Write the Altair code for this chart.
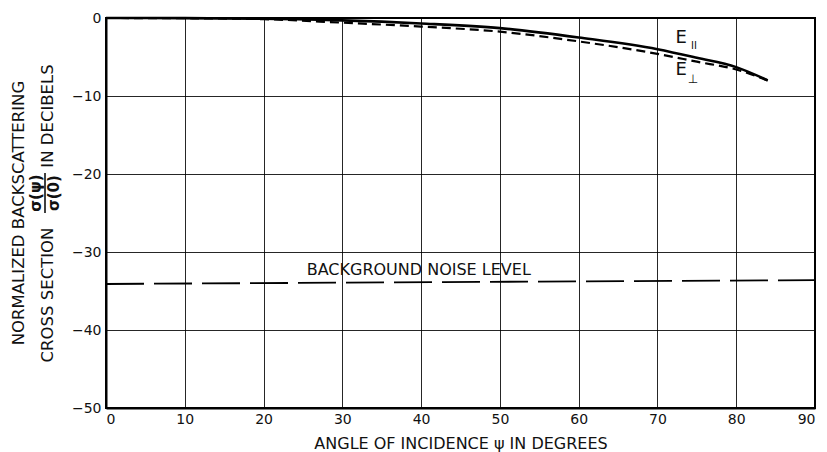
import altair as alt
import pandas as pd

FONT = "DejaVu Sans"
INK = "#111111"

# ---- data ----
angle = [0, 10, 20, 30, 40, 50, 60, 70, 75, 80, 84]
e_parallel = [0, -0.02, -0.1, -0.3, -0.7, -1.3, -2.5, -4.0, -5.1, -6.3, -8.0]
e_perp = [0, -0.03, -0.15, -0.6, -1.1, -1.75, -3.0, -4.6, -5.6, -6.6, -8.0]
noise_angle = [0, 90]
noise_db = [-34.1, -33.6]

x_ticks = [0, 10, 20, 30, 40, 50, 60, 70, 80, 90]
y_ticks = [0, -10, -20, -30, -40, -50]

noise_label = ["BACKGROUND NOISE LEVEL"]
noise_label_pos = [39.7, -32.3]
e_label = ["E"]
e_par_pos = [73.0, -2.5]
e_perp_pos = [73.0, -6.7]
sub_par = ["II"]
sub_perp = ["\u22a5"]

ytitle1 = ["NORMALIZED BACKSCATTERING"]
ytitle2a = ["CROSS SECTION"]
ytitle2b = ["IN DECIBELS"]
frac_num = ["\u03c3(\u03c8)"]
frac_den = ["\u03c3(0)"]
x_title = "ANGLE OF INCIDENCE \u03c8 IN DEGREES"

curves = pd.DataFrame({"angle": angle, "par": e_parallel, "perp": e_perp})
noise = pd.DataFrame({"angle": noise_angle, "db": noise_db})

xscale = alt.Scale(domain=[0, 90], nice=False)
yscale = alt.Scale(domain=[-50, 0], nice=False)

xax = alt.Axis(values=x_ticks, grid=True, ticks=False, labelFontSize=14,
               labelPadding=4, labelFont=FONT, labelColor=INK, title=x_title,
               titleFont=FONT, titleFontSize=16, titleFontWeight="normal",
               titleColor=INK, titleY=35, titleBaseline="middle",
               domainColor="black", domainWidth=2, gridColor="black",
               gridWidth=1, gridOpacity=0.85)
yax = alt.Axis(values=y_ticks, grid=True, ticks=False, labelFontSize=14,
               labelPadding=5, labelFont=FONT, labelColor=INK, title=None,
               domainColor="black", domainWidth=2, gridColor="black",
               gridWidth=1, gridOpacity=0.85)

par_line = alt.Chart(curves).mark_line(
    color="black", strokeWidth=2.6, interpolate="monotone").encode(
    x=alt.X("angle:Q", scale=xscale, axis=xax),
    y=alt.Y("par:Q", scale=yscale, axis=yax),
)
perp_line = alt.Chart(curves).mark_line(
    color="black", strokeWidth=2.2, strokeDash=[9, 5],
    interpolate="monotone").encode(
    x=alt.X("angle:Q", scale=xscale),
    y=alt.Y("perp:Q", scale=yscale),
)
noise_line = alt.Chart(noise).mark_line(
    color="black", strokeWidth=1.8, strokeDash=[38, 10]).encode(
    x=alt.X("angle:Q", scale=xscale),
    y=alt.Y("db:Q", scale=yscale),
)


def data_text(txt, pos, size, dx=0, dy=0):
    df = pd.DataFrame({"t": txt, "x": [pos[0]], "y": [pos[1]]})
    return alt.Chart(df).mark_text(font=FONT, fontSize=size, color=INK,
                                   align="center", baseline="middle",
                                   dx=dx, dy=dy).encode(
        x=alt.X("x:Q", scale=xscale), y=alt.Y("y:Q", scale=yscale), text="t:N")


def px_text(txt, px, py, size=16.5, weight="normal"):
    df = pd.DataFrame({"t": txt})
    return alt.Chart(df).mark_text(font=FONT, fontSize=size, color=INK,
                                   fontWeight=weight, align="center",
                                   baseline="middle", angle=270).encode(
        x=alt.value(px), y=alt.value(py), text="t:N")


frac_bar = alt.Chart(pd.DataFrame({"t": [0]})).mark_rule(
    color=INK, strokeWidth=1.6).encode(
    x=alt.value(-61), y=alt.value(155), y2=alt.value(195))

chart = alt.layer(
    noise_line, perp_line, par_line,
    data_text(noise_label, noise_label_pos, 16),
    data_text(e_label, e_par_pos, 18),
    data_text(sub_par, e_par_pos, 10, dx=13, dy=8),
    data_text(e_label, e_perp_pos, 18),
    data_text(sub_perp, e_perp_pos, 12, dx=12, dy=9),
    px_text(ytitle1, -87, 195),
    px_text(ytitle2a, -58, 277),
    px_text(ytitle2b, -58, 98),
    px_text(frac_num, -70, 175, 15, "bold"),
    px_text(frac_den, -52, 175, 15, "bold"),
    frac_bar,
).properties(
    width=709, height=390,
    padding={"left": 106, "top": 18, "right": 12, "bottom": 44},
    autosize=alt.AutoSizeParams(type="none"),
    background="white",
).configure_view(stroke="black", strokeWidth=2)

chart.save("out.html", embed_options={"renderer": "svg", "actions": False})
